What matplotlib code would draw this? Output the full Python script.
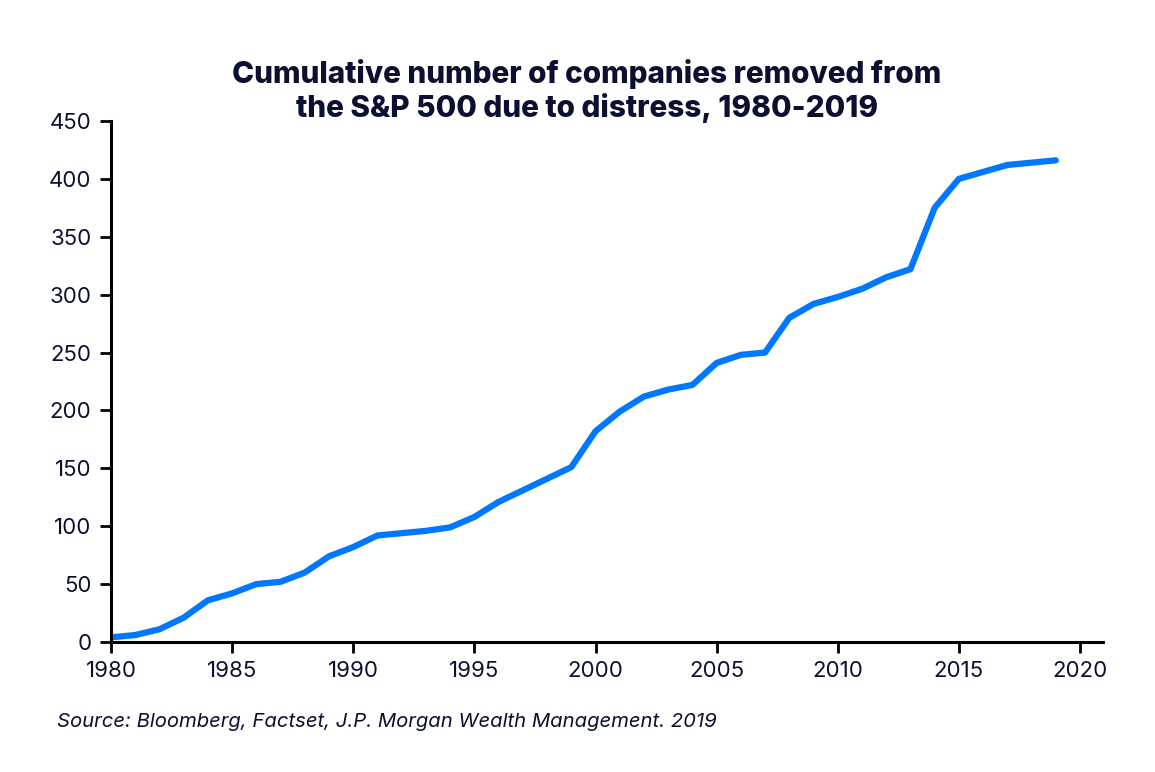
import numpy as np
import matplotlib.pyplot as plt

years = list(range(1980, 2020))
removed = [4, 6, 11, 21, 36, 42, 50, 52, 60, 74,
           82, 92, 94, 96, 99, 108, 121, 131, 141, 151,
           182, 199, 212, 218, 222, 241, 248, 250, 280, 292,
           298, 305, 315, 322, 375, 400, 406, 412, 414, 416]
x_ticks = [1980, 1985, 1990, 1995, 2000, 2005, 2010, 2015, 2020]
y_ticks = [0, 50, 100, 150, 200, 250, 300, 350, 400, 450]

navy = '#0b1030'
plt.rcParams['font.family'] = ['Inter', 'DejaVu Sans']

fig = plt.figure(figsize=(11.55, 7.72), dpi=100)
ax = fig.add_axes([0.0961, 0.1684, 0.8589, 0.6749])

ax.plot(years, removed, color='#0077ff', lw=4.5, solid_capstyle='round', solid_joinstyle='round')

ax.set_xlim(1980, 2020.95)
ax.set_ylim(0, 450)
ax.set_xticks(x_ticks)
ax.set_yticks(y_ticks)
ax.tick_params(axis='both', labelsize=16, colors='black', labelcolor=navy,
               length=8, width=2, direction='out', pad=6)
for s in ['top', 'right']:
    ax.spines[s].set_visible(False)
for s in ['left', 'bottom']:
    ax.spines[s].set_linewidth(2.2)

fig.text(0.508, 0.882, 'Cumulative number of companies removed from\nthe S&P 500 due to distress, 1980-2019',
         ha='center', va='center', fontsize=21.4, fontweight='heavy', color=navy, linespacing=1.2)
fig.text(0.049, 0.065, 'Source: Bloomberg, Factset, J.P. Morgan Wealth Management. 2019',
         ha='left', va='center', fontsize=14.6, style='italic', color=navy)

fig.savefig('out.png', dpi=100, facecolor='white')
